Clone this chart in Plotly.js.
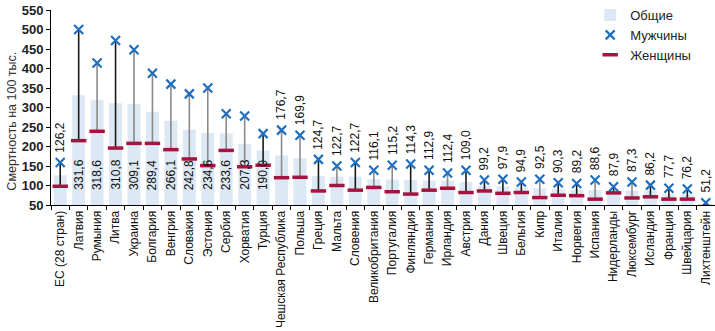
<!DOCTYPE html>
<html>
<head>
<meta charset="utf-8">
<script src="https://cdn.plot.ly/plotly-3.0.1.min.js"></script>
<style>html,body{margin:0;padding:0;background:#fff;}#chart{width:715px;height:331px;}</style>
</head>
<body>
<div id="chart"></div>
<script>
const categories = ["ЕС (28 стран)","Латвия","Румыния","Литва","Украина","Болгария","Венгрия","Словакия","Эстония","Сербия","Хорватия","Турция","Чешская Республика","Польша","Греция","Мальта","Словения","Великобритания","Португалия","Финляндия","Германия","Ирландия","Австрия","Дания","Швеция","Бельгия","Кипр","Италия","Норвегия","Испания","Нидерланды","Люксембург","Исландия","Франция","Швейцария","Лихтенштейн"];
const totalValues = [126.2,331.6,318.6,310.8,309.1,289.4,266.1,242.8,234.6,233.6,207.3,190.0,176.7,169.9,124.7,122.7,122.7,116.1,115.2,114.3,112.9,112.4,109.0,99.2,97.9,94.9,92.5,90.3,89.2,88.6,87.9,87.3,86.2,77.7,76.2,51.2];
const menValues = [159,500,414,472,448,388,360,335,350,284,278,233,242,229,167,150,159,139,152,155,139,132,139,114,116,109,116,107,105,114,97,109,101,93,91,56];
const womenValues = [98,215,239,196,208,208,192,168,151,190,148,152,120,121,86,100,88,95,84,78,88,93,82,86,80,82,69,75,74,65,81,68,71,65,65,46];
const darkLine = [1,1,0,1,0,0,0,0,0,0,0,1,0,0,1,0,1,0,0,1,1,0,1,1,1,1,0,1,1,0,1,0,1,1,1,1];
const insideLabel = [0,1,1,1,1,1,1,1,1,1,1,1,0,0,0,0,0,0,0,0,0,0,0,0,0,0,0,0,0,0,0,0,0,0,0,0];

const FONT = '"Liberation Sans", Arial, sans-serif';
function fmt(v){ return v.toFixed(1).replace('.', ','); }

function lineTrace(flag, color){
  const xs = [], ys = [];
  categories.forEach((c,i)=>{
    if (darkLine[i] === flag){ xs.push(c,c,null); ys.push(womenValues[i], menValues[i], null); }
  });
  return {type:'scatter', mode:'lines', x:xs, y:ys, line:{color:color, width:1.6}, showlegend:false, hoverinfo:'skip'};
}

const traces = [
  {type:'bar', name:'Общие', x:categories, y:totalValues, marker:{color:'#dde8f5'}, legendrank:1},
  lineTrace(1, '#1a1a1a'),
  lineTrace(0, '#8a8a8a'),
  {type:'scatter', mode:'markers', name:'Мужчины', x:categories, y:menValues, legendrank:2,
   marker:{symbol:'x-thin-open', size:9, color:'#1f6fc0', line:{color:'#1f6fc0', width:2.2}}},
  {type:'scatter', mode:'markers', name:'Женщины', x:categories, y:womenValues, legendrank:3,
   marker:{symbol:'line-ew-open', size:11, color:'#a5143f', line:{color:'#a5143f', width:3.5}}}
];

const annotations = categories.map((c,i)=>{
  const inside = insideLabel[i] === 1;
  return {x:c, y: inside ? 50 : menValues[i], xref:'x', yref:'y', text: fmt(totalValues[i]),
    showarrow:false, textangle:-90, yanchor:'bottom', xanchor:'center',
    yshift: inside ? 13 : 8, font:{family:FONT, size:12, color:'#111'}};
});
annotations.push({xref:'paper', yref:'paper', x:-0.058, y:0.43, xanchor:'center', yanchor:'middle',
  text:'Смертность на 100 тыс.', textangle:-90, showarrow:false, font:{family:FONT, size:12.5, color:'#333'}});

const layout = {
  width:715, height:331,
  margin:{l:51, r:0, t:9, b:126},
  paper_bgcolor:'#fff', plot_bgcolor:'#fff',
  bargap:0.3,
  showlegend:true,
  legend:{x:0.812, xanchor:'left', y:1.05, yanchor:'top', font:{family:FONT, size:13, color:'#222'}, bgcolor:'rgba(0,0,0,0)', tracegroupgap:0, itemwidth:30},
  xaxis:{type:'category', range:[-0.5, categories.length-0.5], autorange:false, tickangle:-90, tickfont:{family:FONT, size:12, color:'#111'},
    showline:true, linecolor:'#000', linewidth:1, ticks:'outside', tickson:'boundaries', ticklen:4, tickcolor:'#000', showgrid:false, zeroline:false},
  yaxis:{range:[50,550], autorange:false, tickvals:[50,100,150,200,250,300,350,400,450,500,550], showline:true, linecolor:'#000', linewidth:1,
    ticks:'outside', ticklen:4, tickcolor:'#000', showgrid:false, zeroline:false,
    tickfont:{family:FONT, size:13, color:'#222', weight:'bold'}},
  annotations:annotations,
  font:{family:FONT}
};
Plotly.newPlot('chart', traces, layout, {displayModeBar:false, staticPlot:true});
</script>
</body>
</html>
